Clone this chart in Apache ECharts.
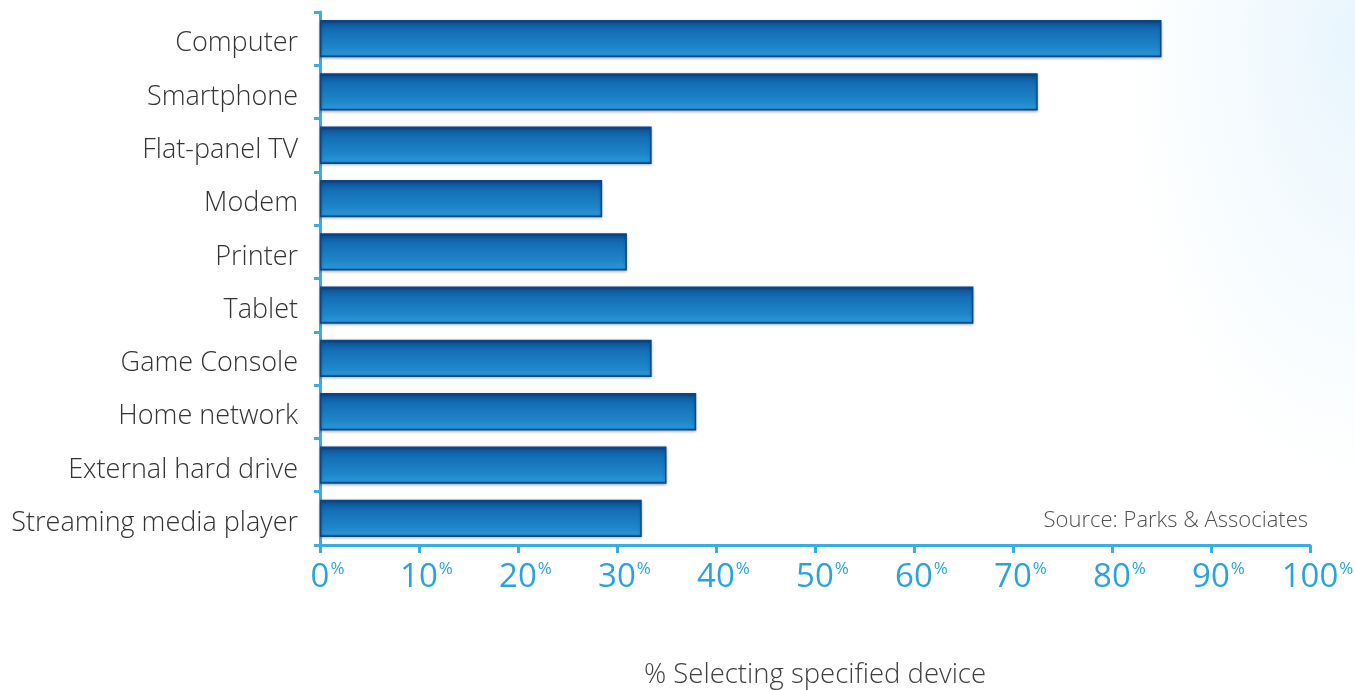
<!DOCTYPE html>
<html><head><meta charset="utf-8">
<script src="https://cdn.jsdelivr.net/npm/echarts@6/dist/echarts.min.js"></script>
<style>
html,body{margin:0;padding:0;}
#c{width:1355px;height:690px;background:radial-gradient(ellipse 240px 460px at 1355px 40px,#e8f5fd 0%,#f5fbfe 50%,#ffffff 100%);}
</style></head>
<body><div id="c"></div>
<script>
const categories = ["Computer","Smartphone","Flat-panel TV","Modem","Printer","Tablet","Game Console","Home network","External hard drive","Streaming media player"];
const values = [85, 72.5, 33.5, 28.5, 31, 66, 33.5, 38, 35, 32.5];
const xTicks = [0,10,20,30,40,50,60,70,80,90,100];
const axisName = "% Selecting specified device";
const sourceText = "Source: Parks & Associates";

const chart = echarts.init(document.getElementById('c'), null, {renderer:'canvas'});
const barColor = new echarts.graphic.LinearGradient(0,0,0,1,[
  {offset:0,color:'#0a3a75'},
  {offset:0.1,color:'#0f5aa0'},
  {offset:0.3,color:'#1470b6'},
  {offset:0.75,color:'#1f86c9'},
  {offset:0.92,color:'#2795d6'},
  {offset:1,color:'#0d559c'}
]);
chart.setOption({
  animation:false,
  grid:{left:320,right:45,top:12,bottom:145,containLabel:false,outerBoundsMode:'none'},
  xAxis:{
    type:'value',min:0,max:100,interval:10,
    axisLine:{show:true,lineStyle:{color:'#3aaee4',width:3}},
    axisTick:{show:true,length:8,lineStyle:{color:'#3aaee4',width:3}},
    splitLine:{show:false},
    axisLabel:{
      margin:16,
      formatter:v=>'{s| }{n|'+v+'}{p|%}',
      rich:{
        s:{width:15,fontSize:10},
        n:{fontSize:33,color:'#2aa3dc',fontFamily:'Open Sans',verticalAlign:'top',lineHeight:36},
        p:{fontSize:17,color:'#2aa3dc',fontFamily:'Open Sans',verticalAlign:'top',lineHeight:36,padding:[0,0,14,1]}
      }
    },
    name:axisName,nameLocation:'middle',nameGap:116,
    nameTextStyle:{fontSize:27.5,color:'#404040',fontFamily:'Open Sans',fontWeight:300}
  },
  yAxis:{
    type:'category',data:categories,inverse:true,
    axisLine:{show:true,lineStyle:{color:'#3aaee4',width:3}},
    axisTick:{show:true,length:6,lineStyle:{color:'#3aaee4',width:3}},
    axisLabel:{margin:22,formatter:v=>'{a|'+v+'}',
      rich:{a:{fontSize:27,lineHeight:30,color:'#333',fontFamily:'Open Sans',fontWeight:300,padding:[10,0,0,0]}}}
  },
  series:[{
    type:'bar',data:values,barWidth:'70%',
    itemStyle:{color:barColor,borderColor:'#0b4785',borderWidth:1.5,
      shadowColor:'rgba(0,30,80,0.35)',shadowBlur:3,shadowOffsetY:1}
  }],
  graphic:[{
    type:'text',right:47,top:510,
    style:{text:sourceText,fontSize:22,fill:'#505050',fontFamily:'Open Sans',fontWeight:300}
  }]
});
</script></body></html>
